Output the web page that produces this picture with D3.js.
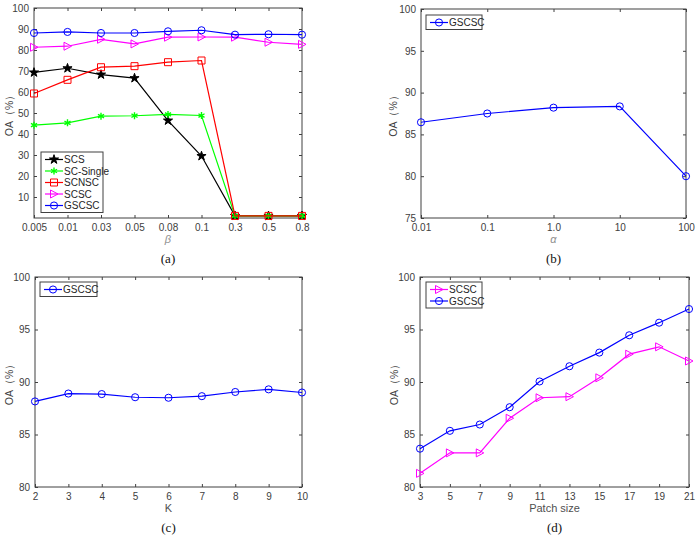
<!DOCTYPE html>
<html>
<head>
<meta charset="utf-8">
<script src="https://cdn.jsdelivr.net/npm/d3@7"></script>
<style>
  body { margin: 0; background: #fff; }
  text { font-family: "Liberation Sans", Arial, sans-serif; }
  .tick text { fill: #404040; font-size: 10px; }
  .axis path, .axis line { stroke: #404040; }
  .caption { font-family: "Liberation Serif", "Times New Roman", serif; font-size: 13px; fill: #111; }
</style>
</head>
<body>
<div class="chart-container"></div>
<script>
var totalWidth = 696;
var totalHeight = 538;

// (a) beta
var betaLabels = ['0.005', '0.01', '0.03', '0.05', '0.08', '0.1', '0.3', '0.5', '0.8'];
var scsA = [69.3, 71.3, 68.3, 66.6, 46.4, 29.5, 1.0, 1.0, 1.0];
var scSingleA = [44.2, 45.3, 48.5, 48.7, 49.3, 48.8, 1.0, 1.0, 1.0];
var scnscA = [59.3, 65.8, 71.8, 72.3, 74.2, 75.0, 1.0, 1.0, 1.0];
var scscA = [81.3, 81.8, 85.1, 82.9, 86.1, 86.2, 86.1, 83.7, 82.7];
var gscscA = [88.1, 88.6, 88.1, 88.1, 88.9, 89.4, 87.3, 87.5, 87.3];
var yTicksA = [10, 20, 30, 40, 50, 60, 70, 80, 90, 100];

// (b) alpha
var alphaLabels = ['0.01', '0.1', '1.0', '10', '100'];
var gscscB = [86.45, 87.5, 88.2, 88.35, 80.0];
var yTicksB = [75, 80, 85, 90, 95, 100];

// (c) K
var kLabels = ['2', '3', '4', '5', '6', '7', '8', '9', '10'];
var gscscC = [88.15, 88.9, 88.85, 88.55, 88.5, 88.65, 89.05, 89.3, 89.0];
var yTicksC = [80, 85, 90, 95, 100];

// (d) patch size
var patchLabels = ['3', '5', '7', '9', '11', '13', '15', '17', '19', '21'];
var scscD = [81.3, 83.25, 83.25, 86.55, 88.5, 88.6, 90.4, 92.65, 93.35, 92.0];
var gscscD = [83.65, 85.35, 85.95, 87.6, 90.05, 91.5, 92.8, 94.45, 95.65, 96.95];
var yTicksD = [80, 85, 90, 95, 100];

var svg = d3.select('.chart-container').append('svg')
  .attr('width', totalWidth)
  .attr('height', totalHeight);

var markers = {
  star: { path: d3.symbol(d3.symbolStar, 26)(), fill: true },
  asterisk: { path: d3.symbol(d3.symbolAsterisk, 34)(), fill: false },
  square: { path: 'M-3.5,-3.5H3.5V3.5H-3.5Z', fill: false },
  triangle: { path: 'M-3.5,-4L4,0L-3.5,4Z', fill: false },
  circle: { path: d3.symbol(d3.symbolCircle, 40)(), fill: false }
};

function drawMarker(g, type, color, x, y) {
  var m = markers[type];
  g.append('path')
    .attr('d', m.path)
    .attr('transform', `translate(${x},${y})`)
    .attr('fill', m.fill ? color : 'none')
    .attr('stroke', color)
    .attr('stroke-width', type === 'asterisk' ? 1.4 : 1);
}

function panel(opt) {
  var g = svg.append('g');
  var x = d3.scalePoint().domain(opt.cats).range([opt.left, opt.right]);
  var y = d3.scaleLinear().domain(opt.yDomain).range([opt.bottom, opt.top]);

  g.append('g').attr('class', 'axis')
    .attr('transform', `translate(0,${opt.bottom})`)
    .call(d3.axisBottom(x).tickSizeInner(-3).tickSizeOuter(0).tickPadding(6))
    .call(a => a.select('.domain').remove());
  g.append('g').attr('class', 'axis')
    .attr('transform', `translate(0,${opt.top})`)
    .call(d3.axisTop(x).tickSizeInner(-3).tickSizeOuter(0).tickFormat(''))
    .call(a => a.select('.domain').remove());
  g.append('g').attr('class', 'axis')
    .attr('transform', `translate(${opt.left},0)`)
    .call(d3.axisLeft(y).tickValues(opt.yTicks).tickSizeInner(-3).tickSizeOuter(0).tickPadding(5))
    .call(a => a.select('.domain').remove());
  g.append('g').attr('class', 'axis')
    .attr('transform', `translate(${opt.right},0)`)
    .call(d3.axisRight(y).tickValues(opt.yTicks).tickSizeInner(-3).tickSizeOuter(0).tickFormat(''))
    .call(a => a.select('.domain').remove());

  g.append('rect')
    .attr('x', opt.left).attr('y', opt.top)
    .attr('width', opt.right - opt.left).attr('height', opt.bottom - opt.top)
    .attr('fill', 'none').attr('stroke', '#404040').attr('stroke-width', 1);

  var line = d3.line().x((d, i) => x(opt.cats[i])).y(d => y(d));
  opt.series.forEach(s => {
    g.append('path')
      .datum(s.values)
      .attr('d', line)
      .attr('fill', 'none')
      .attr('stroke', s.color)
      .attr('stroke-width', 1.2);
    s.values.forEach((v, i) => drawMarker(g, s.marker, s.color, x(opt.cats[i]), y(v)));
  });

  // legend
  var lg = g.append('g');
  var rowH = 11.5;
  var boxH = opt.series.length * rowH + 3;
  lg.append('rect')
    .attr('x', opt.legendX).attr('y', opt.legendY)
    .attr('width', opt.legendW).attr('height', boxH)
    .attr('fill', '#fff').attr('stroke', '#404040').attr('stroke-width', 1);
  opt.series.forEach((s, i) => {
    var cy = opt.legendY + 7.5 + i * rowH;
    lg.append('line')
      .attr('x1', opt.legendX + 4).attr('x2', opt.legendX + 22)
      .attr('y1', cy).attr('y2', cy)
      .attr('stroke', s.color).attr('stroke-width', 1.2);
    drawMarker(lg, s.marker, s.color, opt.legendX + 13, cy);
    lg.append('text')
      .attr('x', opt.legendX + 23).attr('y', cy + 3.5)
      .attr('font-size', 10).attr('fill', '#262626')
      .text(s.name);
  });

  // axis labels
  var cx = (opt.left + opt.right) / 2;
  var xl = g.append('text')
    .attr('x', cx).attr('y', opt.bottom + 25)
    .attr('text-anchor', 'middle')
    .attr('fill', '#505050')
    .attr('font-size', 11)
    .text(opt.xLabel);
  if (opt.xItalic) xl.attr('font-style', 'italic').attr('font-family', 'Liberation Serif, serif').attr('fill', '#909090');

  g.append('text')
    .attr('transform', `translate(${opt.left - opt.yLabelOff},${(opt.top + opt.bottom) / 2}) rotate(-90)`)
    .attr('text-anchor', 'middle')
    .attr('fill', '#404040')
    .attr('font-size', 10.5)
    .text('OA（%）');

  g.append('text')
    .attr('class', 'caption')
    .attr('x', cx).attr('y', opt.bottom + 45)
    .attr('text-anchor', 'middle')
    .text(opt.caption);
}

panel({
  cats: betaLabels, yDomain: [0, 100], yTicks: yTicksA,
  left: 34, right: 302, top: 8, bottom: 218, yLabelOff: 21,
  xLabel: 'β', xItalic: true, caption: '(a)',
  legendX: 41, legendY: 152, legendW: 62,
  series: [
    { name: 'SCS', values: scsA, color: '#000000', marker: 'star' },
    { name: 'SC-Single', values: scSingleA, color: '#00ff00', marker: 'asterisk' },
    { name: 'SCNSC', values: scnscA, color: '#ff0000', marker: 'square' },
    { name: 'SCSC', values: scscA, color: '#ff00ff', marker: 'triangle' },
    { name: 'GSCSC', values: gscscA, color: '#0000ff', marker: 'circle' }
  ]
});

panel({
  cats: alphaLabels, yDomain: [75, 100], yTicks: yTicksB,
  left: 421, right: 686, top: 9, bottom: 218, yLabelOff: 24,
  xLabel: 'α', xItalic: true, caption: '(b)',
  legendX: 426, legendY: 15, legendW: 56,
  series: [
    { name: 'GSCSC', values: gscscB, color: '#0000ff', marker: 'circle' }
  ]
});

panel({
  cats: kLabels, yDomain: [80, 100], yTicks: yTicksC,
  left: 35, right: 302, top: 277, bottom: 487, yLabelOff: 22,
  xLabel: 'K', xItalic: false, caption: '(c)',
  legendX: 40, legendY: 282, legendW: 57,
  series: [
    { name: 'GSCSC', values: gscscC, color: '#0000ff', marker: 'circle' }
  ]
});

panel({
  cats: patchLabels, yDomain: [80, 100], yTicks: yTicksD,
  left: 420, right: 689, top: 277, bottom: 487, yLabelOff: 22,
  xLabel: 'Patch size', xItalic: false, caption: '(d)',
  legendX: 426, legendY: 282, legendW: 56,
  series: [
    { name: 'SCSC', values: scscD, color: '#ff00ff', marker: 'triangle' },
    { name: 'GSCSC', values: gscscD, color: '#0000ff', marker: 'circle' }
  ]
});
</script>
</body>
</html>
